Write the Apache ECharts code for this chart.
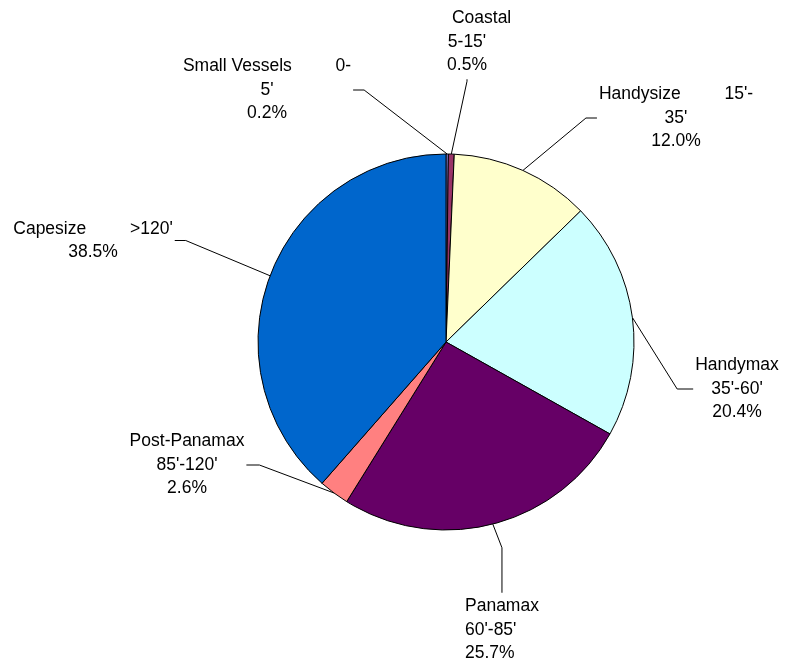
<!DOCTYPE html>
<html><head><meta charset="utf-8">
<script src="https://cdn.jsdelivr.net/npm/echarts@6/dist/echarts.min.js"></script>
<style>html,body{margin:0;padding:0;background:#fff}#c{width:785px;height:666px}</style>
</head><body><div id="c"></div>
<script>
// ---- data ----
const categories = ["Small Vessels", "Coastal", "Handysize", "Handymax", "Panamax", "Post-Panamax", "Capesize"];
const labelHeads = [
  "Small Vessels         0-\n5'",
  "      Coastal\n5-15'",
  "Handysize         15'-\n35'",
  "Handymax\n35'-60'",
  "Panamax\n60'-85'",
  "Post-Panamax\n85'-120'",
  "Capesize         >120'"
];
const shares = [0.2, 0.5, 12.0, 20.4, 25.7, 2.6, 38.5];
const colors = ["#9999FF", "#993366", "#FFFFCC", "#CCFFFF", "#660066", "#FF8080", "#0066CC"];

// ---- label placement (layout only) ----
const labelPos = [
  {x: 267, y: 90, align: 'center'},
  {x: 467, y: 42, align: 'center'},
  {x: 676, y: 118, align: 'center'},
  {x: 737, y: 389, align: 'center'},
  {x: 463, y: 630, align: 'left'},
  {x: 187, y: 465, align: 'center'},
  {x: 93, y: 240.5, align: 'center'}
];
const lineLen2 = [11, 2, 11, 16, 45, 13, 11];

const chart = echarts.init(document.getElementById('c'), null, {renderer: 'canvas'});
chart.setOption({
  animation: false,
  backgroundColor: '#fff',
  series: [{
    type: 'pie',
    center: [446, 342],
    radius: 188,
    startAngle: 90,
    clockwise: true,
    avoidLabelOverlap: false,
    silent: true,
    itemStyle: {borderColor: '#000', borderWidth: 1},
    label: {
      show: true,
      position: 'outside',
      color: '#000',
      fontFamily: 'Liberation Sans, Arial, sans-serif',
      fontSize: 17.5,
      lineHeight: 23.5,
      padding: [2, 2],
      formatter: p => labelHeads[p.dataIndex] + '\n' + shares[p.dataIndex].toFixed(1) + '%'
    },
    labelLine: {show: true, length: 10, length2: 10, smooth: false, lineStyle: {color: '#000', width: 1}},
    labelLayout: p => {
      const lp = labelPos[p.dataIndex];
      return {x: lp.x, y: lp.y, align: lp.align, verticalAlign: 'middle'};
    },
    data: categories.map((c, i) => ({
      name: c,
      value: shares[i],
      itemStyle: {color: colors[i]},
      labelLine: {length2: lineLen2[i]}
    }))
  }]
});
</script>
</body></html>
